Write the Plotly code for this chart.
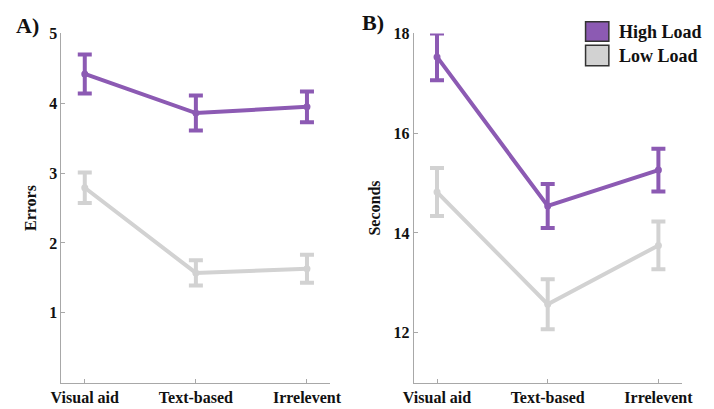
import plotly.graph_objects as go

categories = ["Visual aid", "Text-based", "Irrelevent"]

# Panel A: Errors
errors_high = [4.42, 3.86, 3.95]
errors_high_err = [0.28, 0.25, 0.22]
errors_low = [2.79, 1.57, 1.63]
errors_low_err = [0.22, 0.18, 0.20]

# Panel B: Seconds
seconds_high = [17.53, 14.54, 15.26]
seconds_high_err = [0.47, 0.44, 0.43]
seconds_low = [14.82, 12.57, 13.75]
seconds_low_err = [0.48, 0.50, 0.48]

errors_ticks = [1, 2, 3, 4, 5]
seconds_ticks = [12, 14, 16, 18]

series_names = ["High Load", "Low Load"]
PURPLE = "#8C5AB3"
GRAY = "#D2D2D2"
AXIS = "#A8A8A8"
FONT = "Liberation Serif"

xidx = list(range(len(categories)))

fig = go.Figure()


def add(y, err, color, xa, ya, name):
    fig.add_trace(go.Scatter(
        x=xidx, y=y, mode="lines+markers", name=name, showlegend=False,
        line=dict(color=color, width=4),
        marker=dict(color=color, size=7),
        error_y=dict(type="data", array=err, visible=True, color=color,
                     thickness=4, width=7),
        xaxis=xa, yaxis=ya,
    ))


add(errors_low, errors_low_err, GRAY, "x", "y", series_names[1])
add(errors_high, errors_high_err, PURPLE, "x", "y", series_names[0])
add(seconds_low, seconds_low_err, GRAY, "x2", "y2", series_names[1])
add(seconds_high, seconds_high_err, PURPLE, "x2", "y2", series_names[0])

W, H = 714, 409
ytop = 1 - 26 / H
ybot = 1 - 382 / H

xcommon = dict(
    tickmode="array", tickvals=xidx, ticktext=[f"<b>{c}</b>" for c in categories],
    range=[-0.21, 2.21], showline=True, linecolor=AXIS, linewidth=1,
    ticks="inside", ticklen=4, tickcolor=AXIS, showgrid=False, zeroline=False,
    tickfont=dict(family=FONT, size=16, color="#111"), fixedrange=True,
)
ycommon = dict(
    showline=True, linecolor=AXIS, linewidth=1, ticks="inside", ticklen=4,
    tickcolor=AXIS, showgrid=False, zeroline=False, tickmode="array",
    tickfont=dict(family=FONT, size=16, color="#111"), fixedrange=True,
)

fig.update_layout(
    width=W, height=H,
    margin=dict(l=0, r=0, t=0, b=0),
    paper_bgcolor="white", plot_bgcolor="white",
    font=dict(family=FONT, color="#111"),
    xaxis=dict(domain=[53 / W, 330 / W], anchor="y", **xcommon),
    xaxis2=dict(domain=[416 / W, 692 / W], anchor="y2", **xcommon),
    yaxis=dict(domain=[ybot, ytop], anchor="x", range=[0, 5],
               tickvals=errors_ticks,
               ticktext=[f"<b>{v}</b>" for v in errors_ticks],
               title=dict(text="<b>Errors</b>", font=dict(family=FONT, size=16), standoff=8),
               **ycommon),
    yaxis2=dict(domain=[ybot, ytop], anchor="x2", range=[11, 18],
                tickvals=seconds_ticks,
                ticktext=[f"<b>{v}</b>" for v in seconds_ticks],
                title=dict(text="<b>Seconds</b>", font=dict(family=FONT, size=16), standoff=8),
                **ycommon),
    showlegend=False,
)

# panel labels
fig.add_annotation(x=4 / W, y=1 - 18 / H, xref="paper", yref="paper", text="<b>A)</b>",
                   showarrow=False, xanchor="left", yanchor="middle",
                   font=dict(family=FONT, size=22, color="#111"))
fig.add_annotation(x=361 / W, y=1 - 15 / H, xref="paper", yref="paper", text="<b>B)</b>",
                   showarrow=False, xanchor="left", yanchor="middle",
                   font=dict(family=FONT, size=22, color="#111"))

# legend (drawn manually)
legend_rows = [(series_names[0], PURPLE, 14, 34), (series_names[1], GRAY, 38, 59)]
for name, col, y0, y1 in legend_rows:
    fig.add_shape(type="rect", xref="paper", yref="paper",
                  x0=593 / W, x1=617 / W, y0=1 - y1 / H, y1=1 - y0 / H,
                  fillcolor=col, line=dict(color="#333", width=1.5))
    fig.add_annotation(x=625 / W, y=1 - ((y0 + y1) / 2) / H, xref="paper", yref="paper",
                       text=f"<b>{name}</b>", showarrow=False, xanchor="left",
                       yanchor="middle", font=dict(family=FONT, size=18, color="#111"))

fig.write_html("out.html")
